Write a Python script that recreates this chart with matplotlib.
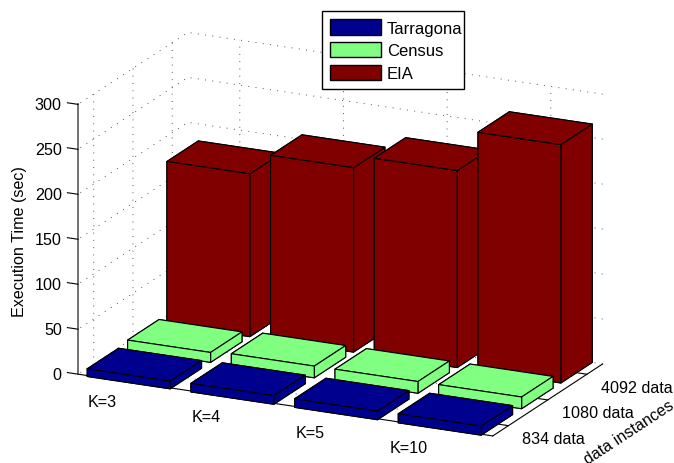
import numpy as np
import matplotlib
matplotlib.use('Agg')
import matplotlib.pyplot as plt
from matplotlib.patches import Patch

plt.rcParams['font.family'] = ['Liberation Sans', 'DejaVu Sans']
plt.rcParams['font.size'] = 11.6

k_labels = ['K=3', 'K=4', 'K=5', 'K=10']
data_labels = ['834 data', '1080 data', '4092 data']
series = ['Tarragona', 'Census', 'EIA']
tarragona = [8.5, 9.5, 9.5, 10]
census = [11, 13, 13, 13]
eia = [181, 205, 219, 265]
colors = ['#00008f', '#80ff80', '#800000']
z_ticks = [0, 50, 100, 150, 200, 250, 300]
row_start = [0.57, 1.6, 2.6]

W, H = 674, 464
S = 580
fig = plt.figure(figsize=(W / 100, H / 100), dpi=100)
ax = fig.add_axes([42.5 / W, -69 / H, S / W, S / H], projection='3d', proj_type='ortho')
ax.view_init(elev=18.2, azim=-64.5)
ax.set_box_aspect((459.8, 255.5, 284.2), zoom=1)
ax.patch.set_alpha(0)

for j, vals in enumerate([tarragona, census, eia]):
    for i, v in enumerate(vals):
        ax.bar3d(i + 0.6, row_start[j], 0, 0.8, 0.8, v, color=colors[j], edgecolor='k',
                 linewidth=0.8, shade=False)

ax.set_xlim(0.5, 4.5, view_margin=0)
ax.set_ylim(0.6, 3.4, view_margin=0)
ax.set_zlim(0, 300, view_margin=0)
ax.set_xticks([1, 2, 3, 4])
ax.set_xticklabels(k_labels, ha='right', va='center')
ax.set_yticks([1, 2, 3])
ax.set_yticklabels(data_labels, ha='left', va='top')
ax.set_zticks(z_ticks)
ax.set_zticklabels([str(z) for z in z_ticks], ha='right', va='center')
ax.tick_params(axis='x', pad=17.6)
ax.tick_params(axis='y', pad=-0.7)
ax.tick_params(axis='z', pad=-1.3)
ax.zaxis.set_ticks_position('lower')
ax.zaxis.set_label_position('lower')
# matlab style ticks: z ticks run along x, labels pushed mostly along one direction
ax.zaxis._get_tickdir = lambda pos: 0
ax.xaxis._axmask = lambda: np.array([0, 1, 0.35])
ax.yaxis._axmask = lambda: np.array([1, 0, 0.374])
ax.set_zlabel('Execution Time (sec)', labelpad=3.2)
ax.set_ylabel('data instances', labelpad=21.5)
for axis, out in zip((ax.xaxis, ax.yaxis, ax.zaxis), (1.05, 0.27, 0.32)):
    axis.set_pane_color((1, 1, 1, 0))
    axis.pane.set_edgecolor((1, 1, 1, 0))
    axis._axinfo['grid'].update(color='#555555', linewidth=0.7, linestyle=(0, (1, 6.5)))
    axis._axinfo['tick'].update(inward_factor=0, outward_factor=out)
    axis.line.set_linewidth(0.8)
ax.zaxis.line.set_color('#666666')
ax.zaxis.line.set_linewidth(1.3)

handles = [Patch(facecolor=c, edgecolor='k', label=s) for c, s in zip(colors, series)]
leg = fig.legend(handles=handles, loc='upper left',
                 bbox_to_anchor=(322 / W, 1 - 12 / H, 142 / W, 0), mode='expand',
                 fontsize=12, fancybox=False, edgecolor='k', framealpha=1, borderaxespad=0,
                 labelspacing=0.38, handlelength=3.04, handleheight=1.04, handletextpad=0.35,
                 borderpad=0.5)
leg.get_frame().set_linewidth(1.0)

fig.savefig('out.png', dpi=100)
